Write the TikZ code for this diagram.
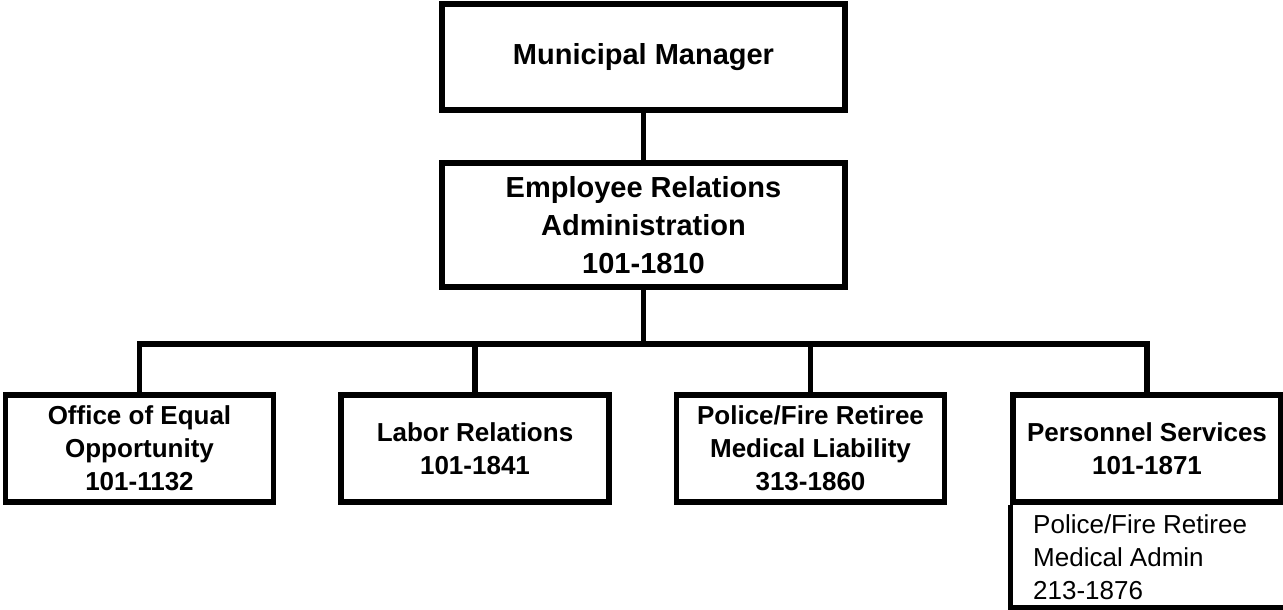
\documentclass[tikz,border=0pt]{standalone}
\usepackage{fontspec}
\setmainfont{Liberation Sans}
\begin{document}
\begin{tikzpicture}[x=1pt,y=-1pt,
    unitbox/.style={draw,line width=5.3pt,align=center,inner sep=0pt,
      minimum width=268pt,minimum height=107pt,
      font=\fontsize{26}{33}\selectfont\bfseries},
    headbox/.style={unitbox,minimum width=403pt,
      font=\fontsize{29}{38}\selectfont\bfseries},
    link/.style={line width=5.3pt}
  ]
  \useasboundingbox (0,0) rectangle (1283,610);

  \node[headbox,minimum height=106pt] (mm) at (643.5,57) {Municipal Manager};
  \node[headbox,minimum height=124pt] (era) at (643.5,225)
    {Employee Relations\\Administration\\101-1810};

  \node[unitbox] (eeo) at (139.5,448.5) {Office of Equal\\Opportunity\\101-1132};
  \node[unitbox] (labor) at (475,448.5) {Labor Relations\\101-1841};
  \node[unitbox] (pfliab) at (810.5,448.5) {Police/Fire Retiree\\Medical Liability\\313-1860};
  \node[unitbox] (pers) at (1147,448.5) {Personnel Services\\101-1871};

  \node[anchor=north west,inner sep=0pt,align=left,
    font=\fontsize{26}{33}\selectfont] (pfadmin) at (1033,514)
    {Police/Fire Retiree\\Medical Admin\\213-1876};

  \coordinate (bus) at (643.5,344);
  \coordinate (subend) at (1283,608);

  \draw[link] (mm) -- (era);
  \draw[link] (era) -- (bus);
  \foreach \n in {eeo,labor,pfliab,pers} \draw[link] (bus) -| (\n);
  \draw[link] (pers.south west) |- (subend);
\end{tikzpicture}
\end{document}
